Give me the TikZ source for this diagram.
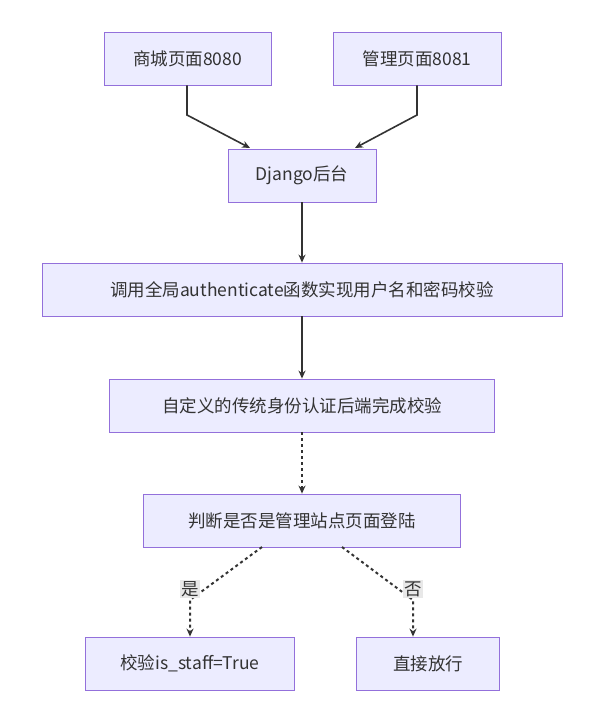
\documentclass[tikz,border=0pt]{standalone}
\usepackage{fontspec}
\setmainfont{Noto Sans CJK SC}
\usetikzlibrary{arrows.meta}
\definecolor{boxfill}{HTML}{ECECFF}
\definecolor{boxline}{HTML}{9370DB}
\definecolor{ink}{HTML}{333333}
\definecolor{lblbg}{HTML}{E8E8E8}
\begin{document}
\begin{tikzpicture}[x=1pt, y=-1pt, font=\fontsize{17.5}{20}\selectfont,
    box/.style={draw=boxline, fill=boxfill, line width=0.8pt, text=ink, minimum height=53pt, inner sep=0pt},
    flow/.style={draw=ink, line width=1.6pt, -{Stealth[length=8pt,width=7pt]}},
    dflow/.style={flow, line width=2pt, dash pattern=on 3pt off 3pt},
    lbl/.style={fill=lblbg, text=ink, inner sep=1.5pt}]
    \useasboundingbox (0,0) rectangle (610,714);
    \node[box, minimum width=167pt] (shop) at (187.5, 58.5) {商城页面8080};
    \node[box, minimum width=168pt] (admin) at (417, 58.5) {管理页面8081};
    \node[box, minimum width=148pt] (django) at (302, 175.5) {Django后台};
    \node[box, minimum width=520pt] (auth) at (302, 289.5) {调用全局authenticate函数实现用户名和密码校验};
    \node[box, minimum width=385pt] (custom) at (302, 405.5) {自定义的传统身份认证后端完成校验};
    \node[box, minimum width=317pt] (judge) at (302, 520.5) {判断是否是管理站点页面登陆};
    \node[box, minimum width=209pt] (staff) at (190, 663.5) {校验is\_staff=True};
    \node[box, minimum width=143pt] (pass) at (428, 663.5) {直接放行};

    \coordinate (s1) at (187, 115);
    \coordinate (a1) at (417, 115);
    \coordinate (j1) at (190, 600);
    \coordinate (j2) at (413, 600);

    \draw[flow] (shop.south -| s1) -- (s1) -- (250, 148);
    \draw[flow] (admin.south -| a1) -- (a1) -- (355, 148);
    \draw[flow] (django) -- (auth);
    \draw[flow] (auth) -- (custom);
    \draw[dflow] (custom) -- (judge);
    \draw[dflow] (262, 547) -- (j1) -- (staff.north -| j1);
    \draw[dflow] (342, 547) -- (j2) -- (pass.north -| j2);
    \node[lbl] (yes) at (190, 589) {是};
    \node[lbl] (no) at (413, 589) {否};
\end{tikzpicture}
\end{document}
